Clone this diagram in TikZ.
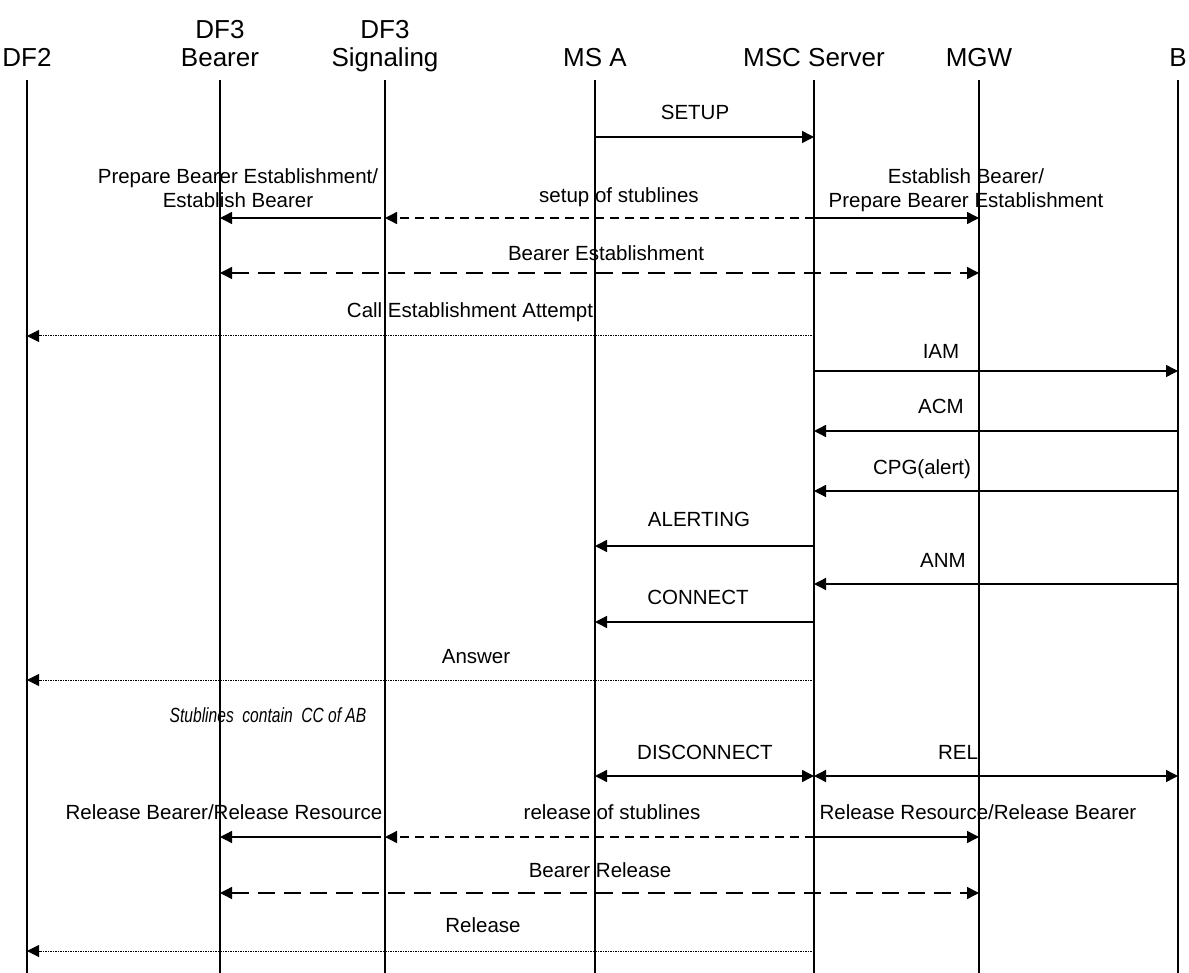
\documentclass[tikz,border=0pt]{standalone}
\usepackage{fontspec}
\setmainfont{Liberation Sans}
\usetikzlibrary{arrows.meta}

\begin{document}
\begin{tikzpicture}[x=1pt,y=-1pt,
        head/.style={font=\fontsize{26}{28}\selectfont,align=center,anchor=south,inner sep=0pt,text depth=0pt},
        lbl/.style={font=\fontsize{20.5}{23}\selectfont,align=center,inner sep=0pt,text height=15pt,text depth=4pt},
        lbltwo/.style={font=\fontsize{20.5}{23.5}\selectfont,align=center,inner sep=0pt},
        life/.style={line width=1.5pt},
        msg/.style={line width=1.4pt,-{Triangle[length=12pt,width=12pt]}},
        both/.style={line width=1.4pt,{Triangle[length=12pt,width=12pt]}-{Triangle[length=12pt,width=12pt]}},
        stub/.style={msg,dash pattern=on 9pt off 6pt},
        bearer/.style={both,dash pattern=on 17pt off 9pt},
        report/.style={line width=1pt,dash pattern=on 1.2pt off 1.3pt,-{Triangle[length=12pt,width=12pt]}}]
    \useasboundingbox (0,0) rectangle (1189,973);
    \coordinate (top) at (0,80);
    \coordinate (bot) at (0,973);
    % lifelines
    \foreach \n/\x/\t in {df2/27/DF2, dfb/220/{DF3\\Bearer}, dfs/385/{DF3\\Signaling},
            msa/595/MS A, msc/814/MSC Server, mgw/979/MGW, b/1178/B} {
        \node[head] (\n) at (\x,67) {\t};
        \draw[life] (\n |- top) -- (\n |- bot);
    }
    % rows
    \coordinate (r1) at (0,137);
    \coordinate (r2) at (0,218);
    \coordinate (r3) at (0,273);
    \coordinate (r4) at (0,336);
    \coordinate (r5) at (0,371);
    \coordinate (r6) at (0,431);
    \coordinate (r7) at (0,491);
    \coordinate (r8) at (0,546);
    \coordinate (r9) at (0,584);
    \coordinate (r10) at (0,622);
    \coordinate (r11) at (0,680);
    \coordinate (r12) at (0,776);
    \coordinate (r13) at (0,837);
    \coordinate (r14) at (0,893);
    \coordinate (r15) at (0,951);

    \draw[msg] (msa |- r1) -- (msc |- r1);
    \node[lbl] (setup) at (695,114) {SETUP};

    \draw[msg,shorten <=4pt] (dfs |- r2) -- (dfb |- r2);
    \node[lbltwo] (prep) at (238,188) {Prepare Bearer Establishment/\\Establish Bearer};
    \draw[stub] (msc |- r2) -- (dfs |- r2);
    \node[lbl] (stubset) at (619,197) {setup of stublines};
    \draw[msg] (msc |- r2) -- (mgw |- r2);
    \node[lbltwo] (estab) at (966,190) {Establish Bearer/\\Prepare Bearer Establishment};

    \draw[bearer] (dfb |- r3) -- (mgw |- r3);
    \node[lbl] (bearest) at (606,255) {Bearer Establishment};

    \draw[report] (msc |- r4) -- (df2 |- r4);
    \node[lbl] (attempt) at (470,312) {Call Establishment Attempt};

    \draw[msg] (msc |- r5) -- (b |- r5);
    \node[lbl] (iam) at (941,353) {IAM};
    \draw[msg] (b |- r6) -- (msc |- r6);
    \node[lbl] (acm) at (941,408) {ACM};
    \draw[msg] (b |- r7) -- (msc |- r7);
    \node[lbl] (cpg) at (922,469) {CPG(alert)};
    \draw[msg] (msc |- r8) -- (msa |- r8);
    \node[lbl] (alert) at (699,521) {ALERTING};
    \draw[msg] (b |- r9) -- (msc |- r9);
    \node[lbl] (anm) at (943,562) {ANM};
    \draw[msg] (msc |- r10) -- (msa |- r10);
    \node[lbl] (conn) at (698,599) {CONNECT};

    \draw[report] (msc |- r11) -- (df2 |- r11);
    \node[lbl] (answer) at (476,658) {Answer};

    \node[lbl,font=\fontsize{20.5}{23}\selectfont\itshape,xscale=0.76,transform shape] (cc) at (268,717) {Stublines\ \ contain\ \ CC of AB};

    \draw[both] (msa |- r12) -- (msc |- r12);
    \node[lbl] (disc) at (705,754) {DISCONNECT};
    \draw[both] (msc |- r12) -- (b |- r12);
    \node[lbl] (rel) at (958,754) {REL};

    \draw[msg,shorten <=4pt] (dfs |- r13) -- (dfb |- r13);
    \node[lbl] (relbear) at (224,814) {Release Bearer/Release Resource};
    \draw[stub] (msc |- r13) -- (dfs |- r13);
    \node[lbl] (stubrel) at (612,814) {release of stublines};
    \draw[msg] (msc |- r13) -- (mgw |- r13);
    \node[lbl] (relres) at (978,814) {Release Resource/Release Bearer};

    \draw[bearer] (dfb |- r14) -- (mgw |- r14);
    \node[lbl] (bearrel) at (600,872) {Bearer Release};

    \draw[report] (msc |- r15) -- (df2 |- r15);
    \node[lbl] (release) at (483,927) {Release};
\end{tikzpicture}
\end{document}
